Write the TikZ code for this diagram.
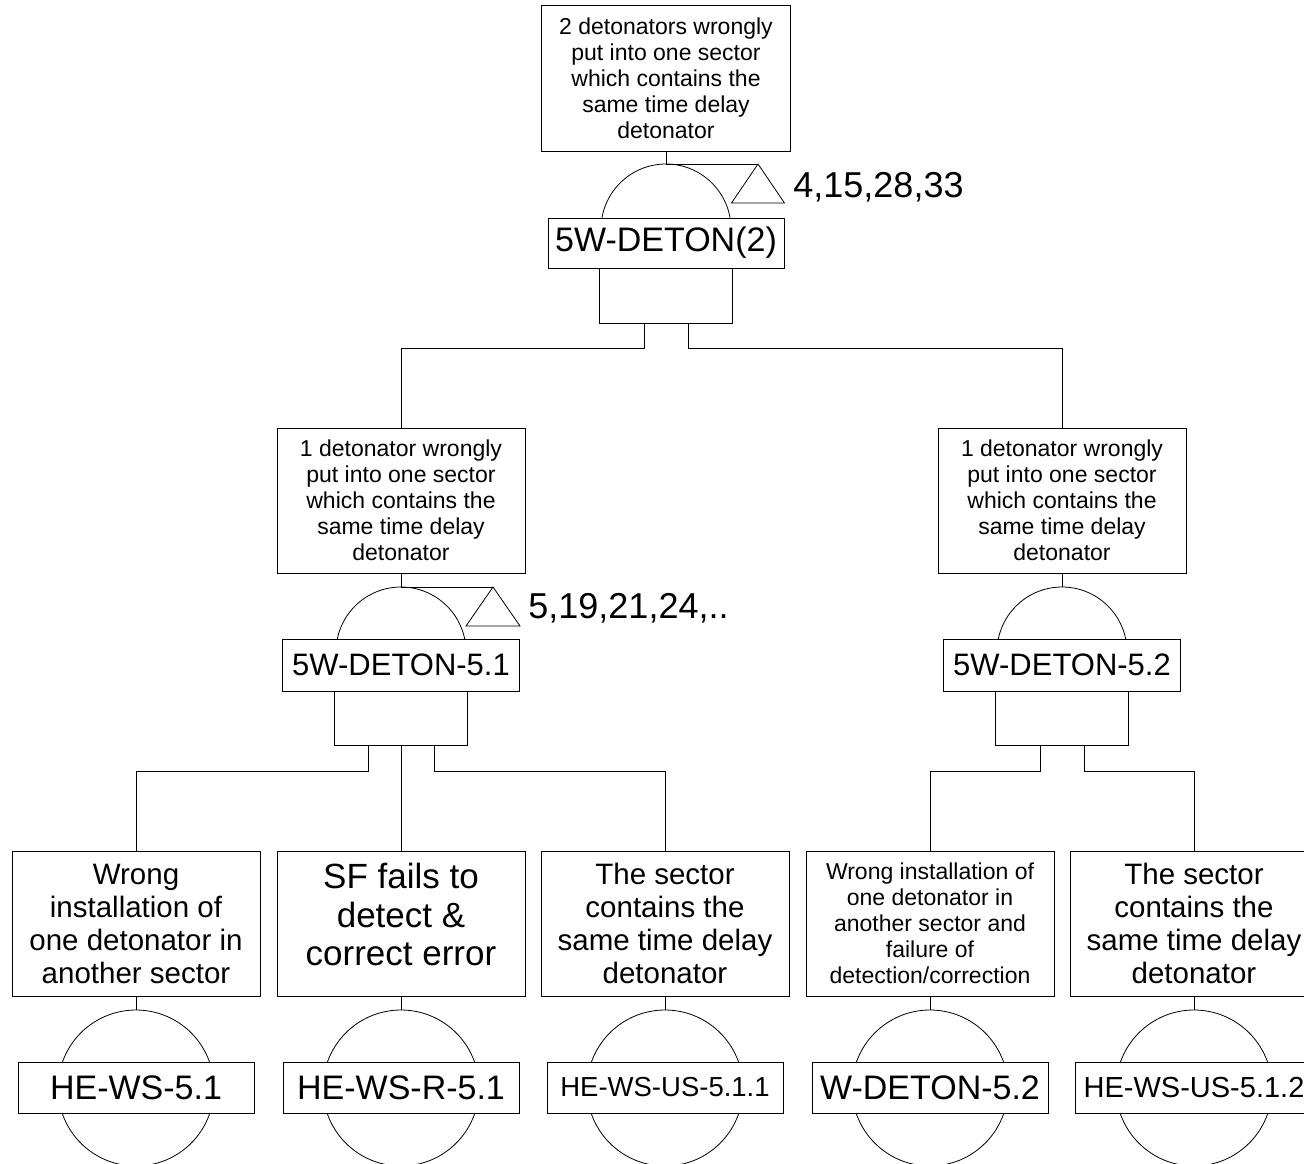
\documentclass[tikz,border=0pt]{standalone}
\usepackage{fontspec}
\setmainfont{Liberation Sans}
\usetikzlibrary{positioning, calc}

\begin{document}
\begin{tikzpicture}[x=1pt, y=-1pt, line width=0.8pt,
  eventbox/.style={draw, fill=white, align=center, inner sep=0pt, minimum width=248pt, minimum height=145pt},
  smalltext/.style={font=\fontsize{23}{26}\selectfont},
  bigtext/.style={font=\fontsize{29.5}{33}\selectfont},
  idbox/.style={draw, fill=white, inner sep=0pt, minimum width=236pt, minimum height=51pt, font=\fontsize{34}{40}\selectfont},
  gatebody/.style={draw, fill=white, inner sep=0pt, minimum width=133pt, minimum height=55pt},
  xferlabel/.style={anchor=base west, inner sep=0pt, font=\fontsize{36}{40}\selectfont}
]
  \useasboundingbox (0,0) rectangle (1304,1163);
  \clip (0,0) rectangle (1304,1163);

  % Top event
  \node[eventbox, smalltext, minimum width=249pt, minimum height=146pt] (top) at (666,78) {2 detonators wrongly\\put into one sector\\which contains the\\same time delay\\detonator};

  % Gate 5W-DETON(2)
  \draw (666,229) circle[radius=65];
  \coordinate (g0top) at (666,164);
  \node[gatebody] (g0b) at (666,295.5) {};
  \node[idbox, minimum height=50pt] (g0) at (666,243) {5W-DETON(2)};
  \draw (top) -- (g0top);
  % transfer
  \coordinate (t0) at (758,164);
  \draw (g0top) -- (t0);
  \draw (t0) -- ++(26.5,39) -- ++(-53,0) -- cycle;
  \node[xferlabel] (t0l) at (793,197) {4,15,28,33};

  % Left intermediate event
  \node[eventbox, smalltext] (e1) at (401,500.5) {1 detonator wrongly\\put into one sector\\which contains the\\same time delay\\detonator};
  \draw (401,652) circle[radius=65];
  \coordinate (g1top) at (401,587);
  \node[gatebody, minimum height=54pt] (g1b) at (401,718) {};
  \node[idbox, minimum width=237pt, minimum height=52pt, font=\fontsize{31}{36}\selectfont] (g1) at (401,665) {5W-DETON-5.1};
  \draw (e1) -- (g1top);
  % transfer
  \coordinate (t1) at (493,587);
  \draw (g1top) -- (t1);
  \draw (t1) -- ++(27,39) -- ++(-54,0) -- cycle;
  \node[xferlabel] (t1l) at (528,618) {5,19,21,24,..};

  % Right intermediate event
  \node[eventbox, smalltext] (e2) at (1062,500.5) {1 detonator wrongly\\put into one sector\\which contains the\\same time delay\\detonator};
  \draw (1062,652) circle[radius=65];
  \coordinate (g2top) at (1062,587);
  \node[gatebody, minimum height=54pt] (g2b) at (1062,718) {};
  \node[idbox, minimum width=237pt, minimum height=52pt, font=\fontsize{31}{36}\selectfont] (g2) at (1062,665) {5W-DETON-5.2};
  \draw (e2) -- (g2top);

  % Basic events
  \node[eventbox, bigtext] (b1) at (136,923.5) {Wrong\\installation of\\one detonator in\\another sector};
  \node[eventbox, font=\fontsize{35}{38.5}\selectfont, text depth=18pt] (b2) at (401,923.5) {SF fails to\\detect \&\\correct error};
  \node[eventbox, bigtext] (b3) at (665,923.5) {The sector\\contains the\\same time delay\\detonator};
  \node[eventbox, smalltext] (b4) at (930,923.5) {Wrong installation of\\one detonator in\\another sector and\\failure of\\detection/correction};
  \node[eventbox, bigtext] (b5) at (1194,923.5) {The sector\\contains the\\same time delay\\detonator};

  \draw (136,1088) circle[radius=78];
  \draw (401,1088) circle[radius=78];
  \draw (665,1088) circle[radius=78];
  \draw (930,1088) circle[radius=78];
  \draw (1194,1088) circle[radius=78];
  \coordinate (c1top) at (136,1010);
  \coordinate (c2top) at (401,1010);
  \coordinate (c3top) at (665,1010);
  \coordinate (c4top) at (930,1010);
  \coordinate (c5top) at (1194,1010);
  \node[idbox] (id1) at (136,1087.5) {HE-WS-5.1};
  \node[idbox] (id2) at (401,1087.5) {HE-WS-R-5.1};
  \node[idbox, font=\fontsize{27.5}{32}\selectfont] (id3) at (665,1087.5) {HE-WS-US-5.1.1};
  \node[idbox] (id4) at (930,1087.5) {W-DETON-5.2};
  \node[idbox, minimum width=238pt, font=\fontsize{29}{34}\selectfont] (id5) at (1194,1087.5) {HE-WS-US-5.1.2};
  \draw (b1) -- (c1top);
  \draw (b2) -- (c2top);
  \draw (b3) -- (c3top);
  \draw (b4) -- (c4top);
  \draw (b5) -- (c5top);

  % Connections
  \draw ([xshift=-22pt]g0b.south) -- ++(0,25) -| (e1.north);
  \draw ([xshift=22pt]g0b.south) -- ++(0,25) -| (e2.north);
  \draw ([xshift=-33pt]g1b.south) -- ++(0,26) -| (b1.north);
  \draw (g1b.south) -- (b2.north);
  \draw ([xshift=33pt]g1b.south) -- ++(0,26) -| (b3.north);
  \draw ([xshift=-22pt]g2b.south) -- ++(0,26) -| (b4.north);
  \draw ([xshift=22pt]g2b.south) -- ++(0,26) -| (b5.north);
\end{tikzpicture}
\end{document}
